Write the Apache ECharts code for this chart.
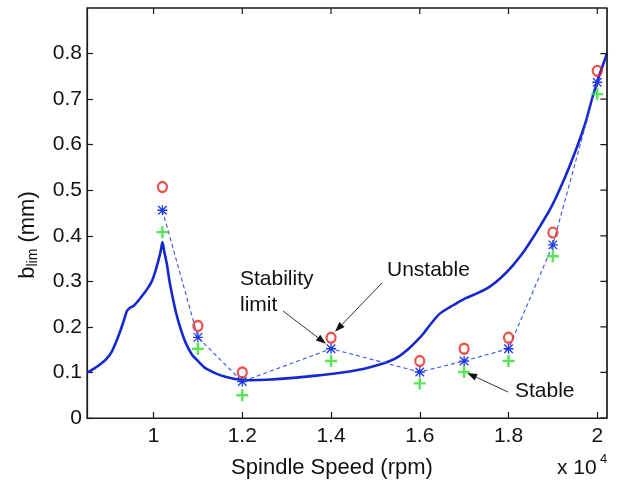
<!DOCTYPE html>
<html>
<head>
<meta charset="utf-8">
<script src="https://cdn.jsdelivr.net/npm/echarts@6/dist/echarts.min.js"></script>
<style>
html, body { margin: 0; padding: 0; background: #fff; overflow: hidden; }
#chart { width: 619px; height: 482px; }
</style>
</head>
<body>
<div id="chart"></div>
<script>
// Stability lobe boundary: spindle speed (rpm) vs limiting axial depth (mm)
const lobeSpeed = [8500, 8650, 8800, 8950, 9065, 9160, 9250, 9330, 9400, 9470, 9550,
  9660, 9775, 9870, 9965, 10040, 10110, 10160, 10200, 10240, 10300, 10360, 10430,
  10510, 10600, 10720, 10860, 10960, 11050, 11160, 11270, 11400, 11600, 11870,
  12200, 12550, 13150, 13670, 14050, 14420, 14750, 15020, 15300, 15540, 15750,
  15920, 16080, 16220, 16440, 16670, 16850, 17040, 17300, 17570, 17830, 18090,
  18320, 18540, 18730, 18920, 19070, 19210, 19360, 19510, 19630, 19740, 19890,
  20000, 20110, 20220];
const lobeDepth = [0.100, 0.108, 0.118, 0.131, 0.147, 0.168, 0.191, 0.214, 0.235, 0.242, 0.246,
  0.258, 0.272, 0.285, 0.301, 0.322, 0.346, 0.366, 0.386, 0.366, 0.338, 0.300, 0.265,
  0.230, 0.199, 0.166, 0.140, 0.129, 0.120, 0.110, 0.104, 0.098, 0.091, 0.085,
  0.083, 0.084, 0.088, 0.093, 0.097, 0.102, 0.108, 0.115, 0.124, 0.136, 0.152,
  0.168, 0.185, 0.203, 0.228, 0.243, 0.253, 0.263, 0.274, 0.288, 0.308, 0.334,
  0.362, 0.394, 0.424, 0.455, 0.484, 0.514, 0.549, 0.586, 0.618, 0.650, 0.703,
  0.738, 0.770, 0.800];

// Cutting tests at selected spindle speeds
const testSpeed = [10200, 11000, 12000, 14000, 16000, 17000, 18000, 19000, 20000];
const unstableDepth = [0.507, 0.202, 0.100, 0.176, 0.125, 0.152, 0.176, 0.407, 0.762];
const limitDepth = [0.456, 0.177, 0.080, 0.152, 0.101, 0.125, 0.152, 0.380, 0.737];
const stableDepth = [0.408, 0.152, 0.050, 0.125, 0.076, 0.101, 0.125, 0.355, 0.711];

// Axis ranges and ticks
const xRange = [8500, 20220];
const yRange = [0, 0.9];
const xTicks = [10000, 12000, 14000, 16000, 18000, 20000];
const yTicks = [0, 0.1, 0.2, 0.3, 0.4, 0.5, 0.6, 0.7, 0.8];

const FONT = '"Liberation Sans", Arial, Helvetica, sans-serif';
const INK = '#111';
const FRAME = '#1a1a1a';

const pairs = (xs, ys) => xs.map((x, i) => [x, ys[i]]);

const PLUS = 'path://M4,0H6V10H4ZM0,4H10V6H0Z';
const STAR = 'path://M4.35,0H5.65V10H4.35ZM0,4.35H10V5.65H0Z' +
  'M1.2,0.3L9.7,8.8L8.8,9.7L0.3,1.2Z' +
  'M8.8,0.3L9.7,1.2L1.2,9.7L0.3,8.8Z';

// Top and right edges of the box, plus their inward tick marks, as broken polylines
const TICK_X = 0.013;   // tick length along depth (about 6 px)
const TICK_Y = 150;     // tick length along speed (about 6 px)
const frameData = [[xRange[0], yRange[1]], [xRange[1], yRange[1]], [xRange[1], yRange[0]], '-'];
xTicks.forEach((v) => { frameData.push([v, yRange[1]], [v, yRange[1] - TICK_X], '-'); });
yTicks.forEach((v) => { frameData.push([xRange[1], v], [xRange[1] - TICK_Y, v], '-'); });

const chart = echarts.init(document.getElementById('chart'), null, { renderer: 'canvas' });

const axisLine = { show: true, onZero: false, lineStyle: { color: FRAME, width: 1.2 } };
const tickStyle = (vals) => ({ show: true, inside: true, length: 6, customValues: vals,
  lineStyle: { color: FRAME, width: 1.2 } });

chart.setOption({
  animation: false,
  backgroundColor: '#fff',
  grid: {
    left: 87, top: 8, width: 520, height: 410, containLabel: false, outerBoundsMode: 'none',
    show: true, borderColor: FRAME, borderWidth: 1.2, backgroundColor: 'transparent'
  },
  xAxis: {
    type: 'value', min: xRange[0], max: xRange[1], position: 'bottom',
    axisLine: axisLine, axisTick: tickStyle(xTicks), splitLine: { show: false },
    axisLabel: {
      customValues: xTicks, margin: 8, color: INK, fontFamily: FONT, fontSize: 21,
      formatter: (v) => String(v / 10000)
    }
  },
  yAxis: {
    type: 'value', min: yRange[0], max: yRange[1], position: 'left',
    axisLine: axisLine, axisTick: tickStyle(yTicks), splitLine: { show: false },
    axisLabel: {
      customValues: yTicks, margin: 5, color: INK, fontFamily: FONT, fontSize: 21,
      formatter: (v) => (v === 0 ? '0' : v.toFixed(1))
    }
  },
  series: [
    {
      name: 'Box', type: 'line', data: frameData, connectNulls: false,
      showSymbol: false, symbol: 'none', silent: true, clip: false,
      lineStyle: { color: FRAME, width: 1.2 }, z: 6
    },
    {
      name: 'Stability lobe', type: 'line',
      data: pairs(lobeSpeed, lobeDepth), showSymbol: false, symbol: 'none',
      smooth: 0.25,
      lineStyle: { color: '#1428cf', width: 2.6 }, z: 2
    },
    {
      name: 'Stability limit', type: 'line',
      data: pairs(testSpeed, limitDepth),
      symbol: STAR, symbolSize: 10, showAllSymbol: true,
      itemStyle: { color: '#2038e0' },
      lineStyle: { color: '#3a50e6', width: 1.1, type: [4, 3] }, z: 3
    },
    {
      name: 'Unstable', type: 'scatter',
      data: pairs(testSpeed, unstableDepth),
      symbol: 'circle', symbolSize: [9, 10],
      itemStyle: { color: 'rgba(0,0,0,0)', borderColor: '#e8261e', borderWidth: 2.3 }, z: 4
    },
    {
      name: 'Stable', type: 'scatter',
      data: pairs(testSpeed, stableDepth),
      symbol: PLUS, symbolSize: 12,
      itemStyle: { color: '#2ee02a' }, z: 4
    }
  ]
});

const px = (x, y) => chart.convertToPixel({ gridIndex: 0 }, [x, y]);

// Annotation arrows pointing at individual test cuts
function arrow(x1, y1, x2, y2) {
  const ang = Math.atan2(y2 - y1, x2 - x1);
  const L = 10, W = 3.6;
  const bx = x2 - L * Math.cos(ang), by = y2 - L * Math.sin(ang);
  const ox = -Math.sin(ang) * W, oy = Math.cos(ang) * W;
  return [
    { type: 'line', silent: true, z: 10,
      shape: { x1: x1, y1: y1, x2: bx, y2: by },
      style: { stroke: '#333', lineWidth: 1 } },
    { type: 'polygon', silent: true, z: 10,
      shape: { points: [[x2, y2], [bx + ox, by + oy], [bx - ox, by - oy]] },
      style: { fill: '#111' } }
  ];
}

const idx = (s) => testSpeed.indexOf(s);
const pLimit = px(14000, limitDepth[idx(14000)]);
const pUnstable = px(14000, unstableDepth[idx(14000)]);
const pStable = px(17000, stableDepth[idx(17000)]);

const label = (txt, x, y) => ({
  type: 'text', silent: true, z: 10, x: x, y: y,
  style: { text: txt, fill: INK, font: '21px ' + FONT, align: 'left', verticalAlign: 'middle' }
});

chart.setOption({ graphic: [
  label('Stability', 240, 279),
  label('limit', 240, 305),
  label('Unstable', 387, 270),
  label('Stable', 515, 391),
  ...arrow(283, 311, pLimit[0] - 5, pLimit[1] - 5),
  ...arrow(382, 283, pUnstable[0] + 4, pUnstable[1] - 6),
  ...arrow(508, 392, pStable[0] + 3, pStable[1] + 1),
  // axis titles
  {
    type: 'text', silent: true, x: 332, y: 468,
    style: { text: 'Spindle Speed (rpm)', fill: INK, font: '22px ' + FONT, align: 'center', verticalAlign: 'middle' }
  },
  {
    type: 'text', silent: true, x: 28, y: 235, rotation: Math.PI / 2,
    style: {
      text: '{b|b}{s|lim}{b| (mm)}', align: 'center', verticalAlign: 'middle',
      rich: {
        b: { fill: INK, fontFamily: FONT, fontSize: 22 },
        s: { fill: INK, fontFamily: FONT, fontSize: 14, padding: [10, 0, 0, 0] }
      }
    }
  },
  // exponent for the speed axis
  {
    type: 'text', silent: true, x: 557, y: 468,
    style: { text: 'x 10', fill: INK, font: '21px ' + FONT, align: 'left', verticalAlign: 'middle' }
  },
  {
    type: 'text', silent: true, x: 600, y: 459,
    style: { text: '4', fill: INK, font: '13px ' + FONT, align: 'left', verticalAlign: 'middle' }
  }
] });
</script>
</body>
</html>
